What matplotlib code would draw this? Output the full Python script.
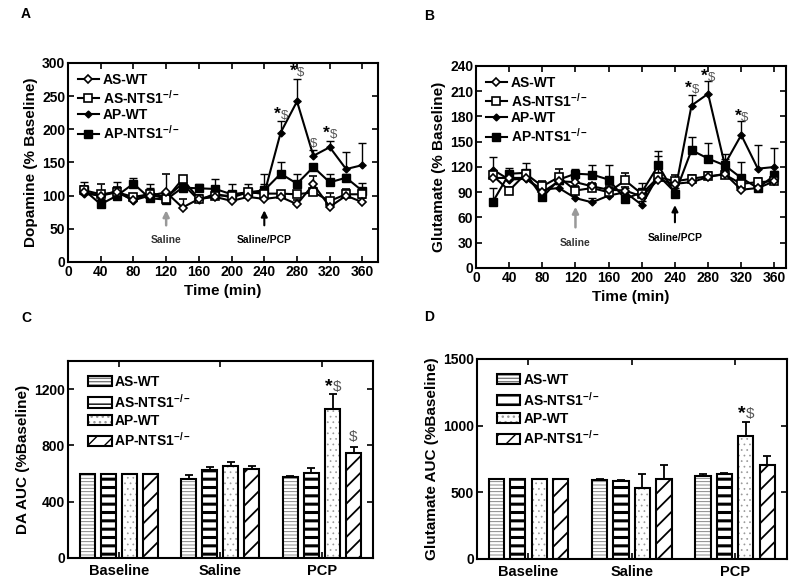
import numpy as np
import matplotlib
matplotlib.use("Agg")
import matplotlib.pyplot as plt
from matplotlib.patches import Patch
from matplotlib.lines import Line2D

plt.rcParams['font.family'] = ['Liberation Sans', 'DejaVu Sans']
plt.rcParams['font.weight'] = 'bold'
plt.rcParams['axes.labelweight'] = 'bold'
plt.rcParams['mathtext.fontset'] = 'custom'
plt.rcParams['mathtext.rm'] = 'Liberation Sans'
plt.rcParams['mathtext.default'] = 'regular'

# time course (min)
time = [20, 40, 60, 80, 100, 120, 140, 160, 180, 200, 220, 240, 260, 280, 300, 320, 340, 360]
labels = ['AS-WT', r'AS-NTS1$^{-/-}$', 'AP-WT', r'AP-NTS1$^{-/-}$']

# panel A - dopamine (% baseline)
da_as_wt = [105, 100, 105, 93, 100, 105, 82, 95, 98, 92, 98, 95, 98, 87, 117, 83, 100, 90]
da_as_wt_err = [8, 17, 8, 6, 8, 28, 13, 6, 6, 8, 6, 6, 6, 6, 13, 6, 10, 6]
da_as_ko = [108, 102, 105, 98, 102, 95, 125, 95, 100, 100, 105, 103, 103, 102, 105, 92, 102, 102]
da_as_ko_err = [6, 5, 6, 5, 5, 6, 4, 5, 5, 5, 5, 5, 4, 4, 5, 12, 4, 5]
da_ap_wt = [103, 100, 107, 92, 105, 97, 118, 93, 103, 97, 105, 103, 195, 242, 160, 173, 140, 146]
da_ap_wt_err = [6, 6, 6, 6, 6, 6, 6, 6, 6, 6, 5, 30, 17, 34, 8, 10, 26, 33]
da_ap_ko = [108, 87, 100, 118, 96, 94, 112, 111, 110, 102, 105, 108, 133, 118, 143, 120, 127, 107]
da_ap_ko_err = [12, 8, 20, 9, 22, 8, 8, 6, 15, 15, 12, 10, 17, 14, 5, 13, 6, 12]

# panel B - glutamate (% baseline)
glu_as_wt = [107, 107, 107, 90, 103, 102, 97, 93, 92, 85, 105, 100, 102, 108, 112, 93, 95, 103]
glu_as_wt_err = [4, 4, 4, 4, 4, 4, 4, 4, 4, 4, 4, 4, 4, 4, 4, 4, 4, 4]
glu_as_ko = [110, 92, 112, 97, 108, 92, 95, 90, 104, 88, 108, 103, 106, 109, 111, 100, 102, 103]
glu_as_ko_err = [5, 4, 5, 6, 10, 5, 5, 5, 9, 5, 5, 7, 4, 5, 4, 5, 5, 4]
glu_ap_wt = [117, 105, 106, 93, 95, 83, 78, 86, 90, 75, 110, 90, 193, 207, 123, 158, 118, 120]
glu_ap_wt_err = [15, 5, 5, 5, 5, 5, 5, 5, 5, 5, 23, 5, 13, 15, 12, 17, 28, 23]
glu_ap_ko = [78, 112, 113, 84, 105, 112, 111, 105, 82, 90, 122, 88, 140, 130, 122, 107, 95, 110]
glu_ap_ko_err = [17, 7, 12, 5, 5, 6, 11, 17, 5, 11, 17, 5, 16, 19, 8, 19, 5, 5]

# significance marks on the time courses
da_marks_t = [260, 280, 300, 320]
da_marks_y = [216, 281, 173, 187]
da_marks_star = [True, True, False, True]
glu_marks_t = [260, 280, 320]
glu_marks_y = [208, 222, 175]
glu_marks_star = [True, True, True]

# AUC bars
groups = ['Baseline', 'Saline', 'PCP']
da_auc_as_wt = [600, 562, 576]
da_auc_as_wt_err = [0, 26, 10]
da_auc_as_ko = [600, 624, 605]
da_auc_as_ko_err = [0, 24, 38]
da_auc_ap_wt = [600, 652, 1057]
da_auc_ap_wt_err = [0, 34, 107]
da_auc_ap_ko = [600, 633, 745]
da_auc_ap_ko_err = [0, 19, 46]

glu_auc_as_wt = [600, 590, 622]
glu_auc_as_wt_err = [0, 10, 18]
glu_auc_as_ko = [600, 585, 635]
glu_auc_as_ko_err = [0, 5, 13]
glu_auc_ap_wt = [600, 535, 922]
glu_auc_ap_wt_err = [0, 100, 103]
glu_auc_ap_ko = [600, 598, 707]
glu_auc_ap_ko_err = [0, 107, 63]

fig = plt.figure(figsize=(8, 5.86), dpi=100)


def style_axes(ax):
    for s in ax.spines.values():
        s.set_linewidth(1.5)
    ax.tick_params(direction='in', length=4, width=1.2, top=True, right=True,
                   labelsize=10, pad=2)
    for lab in ax.get_xticklabels() + ax.get_yticklabels():
        lab.set_fontweight('bold')


def mark(ax, x, y, star, fs=9.5):
    if star:
        ax.text(x, y, '*', ha='right', va='baseline', fontsize=fs + 3, fontweight='bold')
        ax.text(x, y, '$', ha='left', va='baseline', fontsize=fs, fontweight='normal',
                color='#555555', parse_math=False)
    else:
        ax.text(x, y, '$', ha='center', va='baseline', fontsize=fs, fontweight='normal',
                color='#555555', parse_math=False)


def time_panel(ax, series, errs, ylim, yticks, ylabel, xmax, arrows, marks):
    styles = [
        dict(marker='D', mfc='white', mec='black', ms=4.5, mew=1.2),
        dict(marker='s', mfc='white', mec='black', ms=5.5, mew=1.2),
        dict(marker='D', mfc='black', mec='black', ms=3.5),
        dict(marker='s', mfc='black', mec='black', ms=5.5),
    ]
    order = [3, 2, 1, 0]
    for i in order:
        y = np.array(series[i])
        e = np.array(errs[i])
        ax.errorbar(time, y, yerr=[np.zeros_like(e), e], color='black', lw=1.5,
                    elinewidth=1, capsize=3, capthick=1, zorder=2 + (3 - i) * 0.1,
                    **styles[i])
    handles = [Line2D([], [], color='black', lw=1.5, **styles[i]) for i in range(4)]
    ax.legend(handles, labels, loc='upper left', frameon=False, fontsize=10,
              handlelength=1.5, handletextpad=0.3, labelspacing=0.12,
              borderaxespad=0.5, borderpad=0.2)
    ax.set_xlim(0, xmax)
    ax.set_ylim(*ylim)
    ax.set_xticks(range(0, 361, 40))
    ax.set_yticks(yticks)
    ax.set_xlabel('Time (min)', fontsize=11)
    ax.set_ylabel(ylabel, fontsize=11, labelpad=3)
    (x1, y1a, y1b, t1y), (x2, y2a, y2b, t2y) = arrows
    ax.annotate('', xy=(x1, y1b), xytext=(x1, y1a),
                arrowprops=dict(arrowstyle='-|>', color='#999999', lw=1.8,
                                mutation_scale=9))
    ax.text(x1, t1y, 'Saline', ha='center', va='center', fontsize=7.5, color='#333333')
    ax.annotate('', xy=(x2, y2b), xytext=(x2, y2a),
                arrowprops=dict(arrowstyle='-|>', color='black', lw=1.5,
                                mutation_scale=9))
    ax.text(x2, t2y, 'Saline/PCP', ha='center', va='center', fontsize=7.5)
    for t, y, s in zip(*marks):
        mark(ax, t, y, s)
    style_axes(ax)


def bar_panel(ax, vals, errs, ylim, yticks, ylabel, marks):
    hatches = ['-----', '--', '...', '//']
    hcolors = ['#777777', 'black', '#999999', 'black']
    hlws = [0.6, 2.2, 0.5, 1.3]
    width = 0.148
    step = 0.207
    xs = np.arange(len(groups))
    handles = []
    for i in range(4):
        x = xs + (i - 1.5) * step
        with plt.rc_context({'hatch.linewidth': hlws[i]}):
            ax.bar(x, vals[i], width, color='white', edgecolor=hcolors[i],
                   hatch=hatches[i], linewidth=0, zorder=2)
            p1 = Patch(facecolor='white', edgecolor=hcolors[i], hatch=hatches[i], lw=0)
        e = np.array(errs[i])
        ax.bar(x, vals[i], width, fill=False, edgecolor='black', linewidth=1.5,
               yerr=[np.zeros_like(e), e], zorder=3,
               error_kw=dict(elinewidth=1.3, capsize=3, capthick=1.3, ecolor='black'))
        p2 = Patch(facecolor='none', edgecolor='black', lw=1.5)
        handles.append((p1, p2))
    ax.legend(handles, labels, loc='upper left', frameon=False, fontsize=10,
              handlelength=1.7, handleheight=0.75, handletextpad=0.2,
              labelspacing=0.25, borderaxespad=0.6, bbox_to_anchor=(0.02, 1.0))
    ax.set_xlim(-0.5, 2.5)
    ax.set_ylim(*ylim)
    ax.set_yticks(yticks)
    ax.set_xticks(xs)
    ax.set_xticklabels(groups, fontsize=10)
    ax.set_ylabel(ylabel, fontsize=11, labelpad=3)
    for gi, bi, y, s in marks:
        mark(ax, xs[gi] + (bi - 1.5) * step, y, s, fs=11)
    style_axes(ax)
    ax.tick_params(axis='x', labelsize=10.5, pad=4)
    for lab in ax.get_xticklabels():
        lab.set_fontweight('bold')


axA = fig.add_axes([0.085, 0.553, 0.3875, 0.3396])
time_panel(axA, [da_as_wt, da_as_ko, da_ap_wt, da_ap_ko],
           [da_as_wt_err, da_as_ko_err, da_ap_wt_err, da_ap_ko_err],
           (0, 300), range(0, 301, 50), 'Dopamine (% Baseline)', 379,
           [(120, 51, 82, 33), (240, 51, 82, 33)],
           (da_marks_t, da_marks_y, da_marks_star))

axB = fig.add_axes([0.595, 0.5427, 0.3875, 0.3447])
time_panel(axB, [glu_as_wt, glu_as_ko, glu_ap_wt, glu_ap_ko],
           [glu_as_wt_err, glu_as_ko_err, glu_ap_wt_err, glu_ap_ko_err],
           (0, 240), range(0, 241, 30), 'Glutamate (% Baseline)', 374,
           [(120, 45, 76, 30), (240, 51, 78, 36)],
           (glu_marks_t, glu_marks_y, glu_marks_star))

axC = fig.add_axes([0.085, 0.0478, 0.381, 0.336])
bar_panel(axC, [da_auc_as_wt, da_auc_as_ko, da_auc_ap_wt, da_auc_ap_ko],
          [da_auc_as_wt_err, da_auc_as_ko_err, da_auc_ap_wt_err, da_auc_ap_ko_err],
          (0, 1400), [0, 400, 800, 1200], 'DA AUC (%Baseline)',
          [(2, 2, 1190, True), (2, 3, 830, False)])

axD = fig.add_axes([0.596, 0.0461, 0.3875, 0.3413])
bar_panel(axD, [glu_auc_as_wt, glu_auc_as_ko, glu_auc_ap_wt, glu_auc_ap_ko],
          [glu_auc_as_wt_err, glu_auc_as_ko_err, glu_auc_ap_wt_err, glu_auc_ap_ko_err],
          (0, 1500), [0, 500, 1000, 1500], 'Glutamate AUC (%Baseline)',
          [(2, 2, 1060, True)])

for lab, x, y in [('A', 26, 14), ('B', 429, 16), ('C', 26, 318), ('D', 429, 317)]:
    fig.text(x / 800, 1 - y / 586, lab, ha='center', va='center', fontsize=10,
             fontweight='bold')

fig.savefig('out.png', dpi=100)
